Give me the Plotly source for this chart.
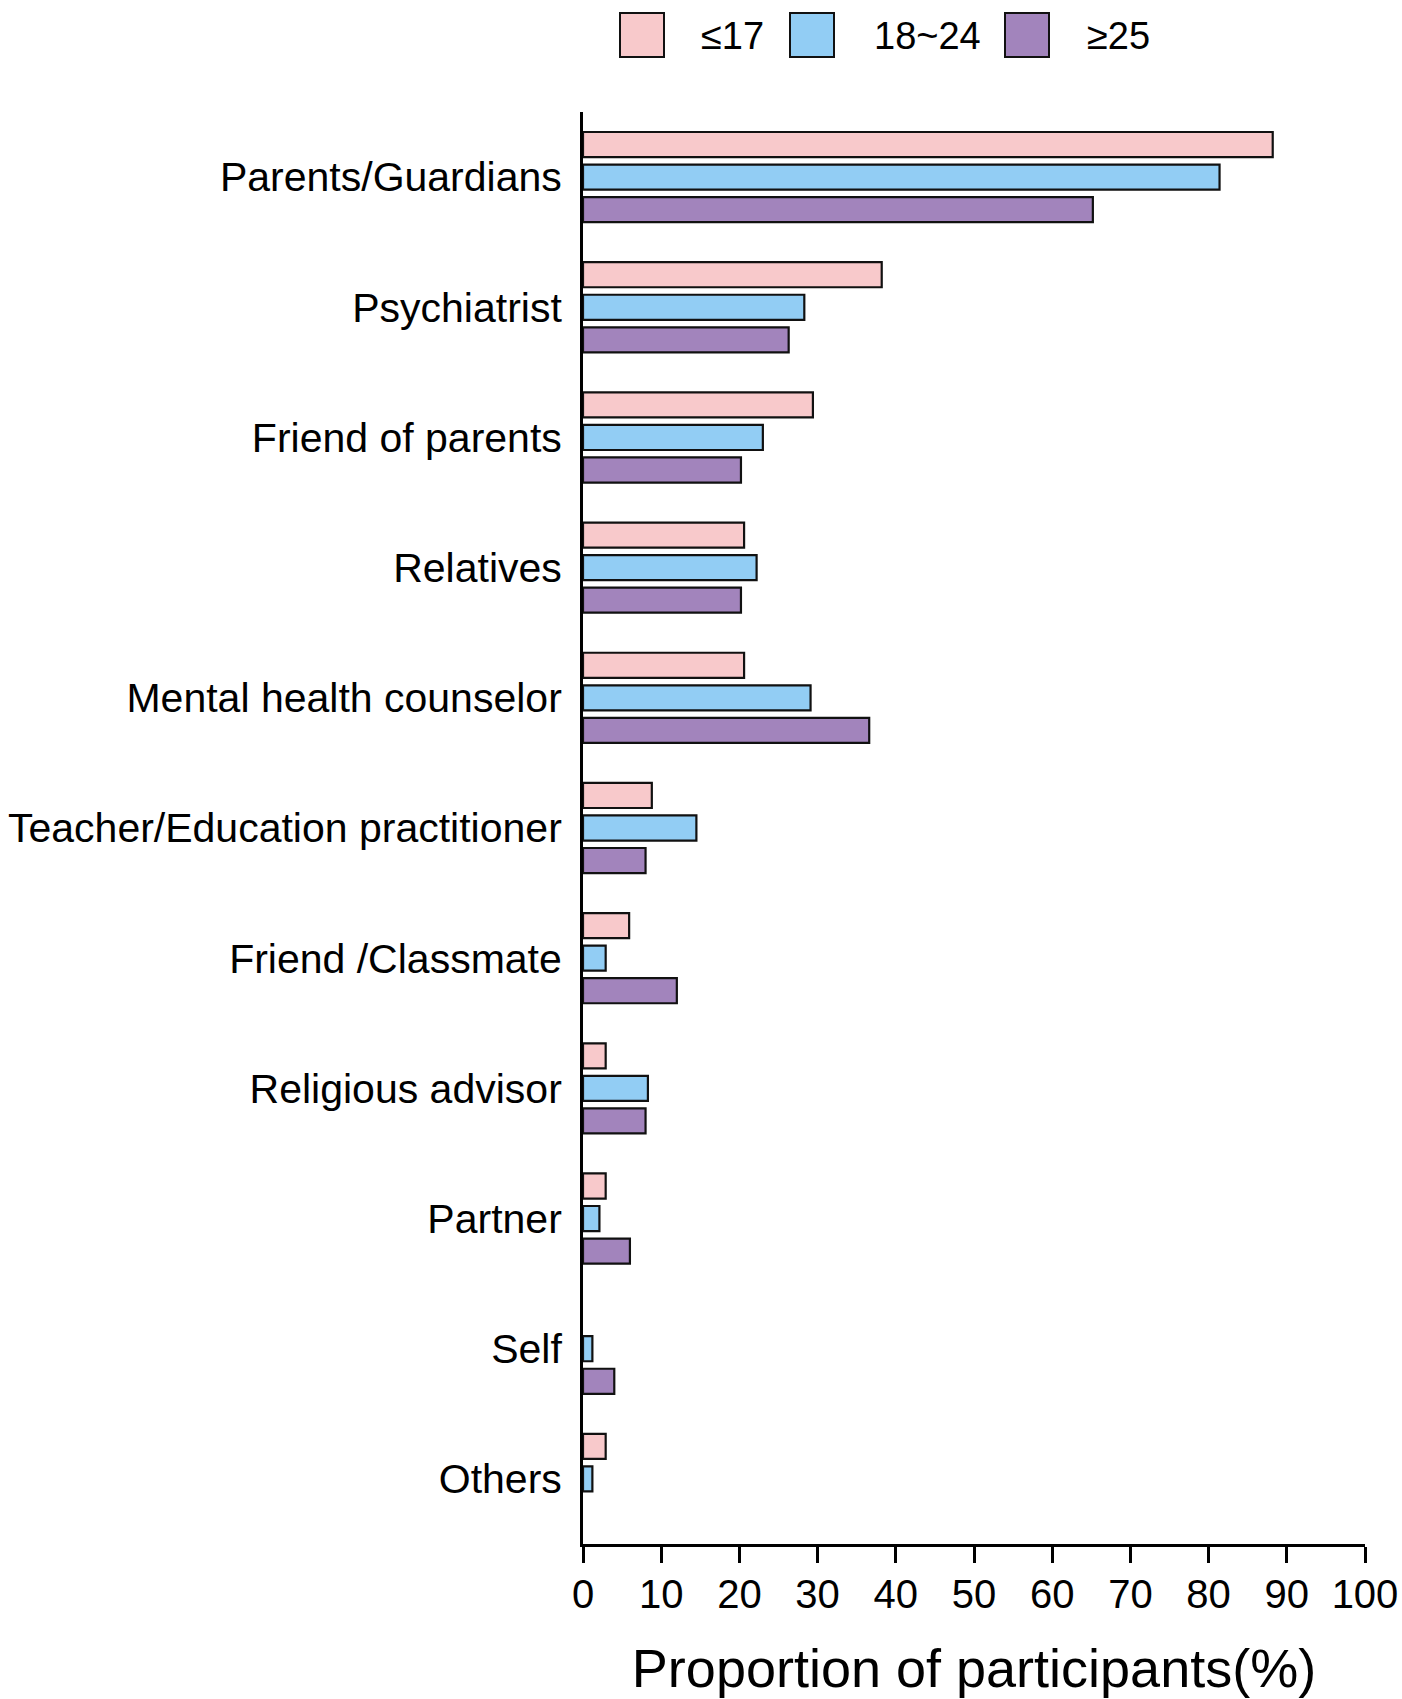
import plotly.graph_objects as go

# Who the participants told / sought help from, by age group (%)
categories = [
    "Parents/Guardians",
    "Psychiatrist",
    "Friend of parents",
    "Relatives",
    "Mental health counselor",
    "Teacher/Education practitioner",
    "Friend /Classmate",
    "Religious advisor",
    "Partner",
    "Self",
    "Others",
]
age_groups = ["≤17", "18~24", "≥25"]
under_17 = [88.2, 38.2, 29.4, 20.6, 20.6, 8.8, 5.9, 2.9, 2.9, 0.0, 2.9]
age_18_24 = [81.4, 28.3, 23.0, 22.2, 29.1, 14.5, 2.9, 8.3, 2.1, 1.2, 1.2]
over_25 = [65.2, 26.3, 20.2, 20.2, 36.6, 8.0, 12.0, 8.0, 6.0, 4.0, 0.0]
x_ticks = list(range(0, 101, 10))

colors = ["#F8C9CB", "#92CDF4", "#A284BC"]
series = [under_17, age_18_24, over_25]

W, H = 1402, 1699
ML, MR, MT, MB = 583, 37, 112, 155
PW, PH = W - ML - MR, H - MT - MB
FONT = "Liberation Sans, Arial, sans-serif"

fig = go.Figure()
for name, vals, col in zip(age_groups, series, colors):
    fig.add_trace(go.Bar(
        y=categories, x=vals, name=name, orientation="h",
        marker=dict(
            color=col,
            # no outline on empty bars so nothing shows at zero
            line=dict(color="#111111", width=[2.2 if v > 0 else 0 for v in vals]),
        ),
        showlegend=False,
    ))


def px_x(p):
    return (p - ML) / PW


def px_y(p):
    return 1 - (p - MT) / PH


# Legend drawn as large square swatches with labels across the top
legend_items = [(620, 699), (790, 872), (1005, 1085)]
shapes = []
annotations = []
for (sx, tx), name, col in zip(legend_items, age_groups, colors):
    shapes.append(dict(
        type="rect", xref="paper", yref="paper",
        x0=px_x(sx), x1=px_x(sx + 44), y0=px_y(13), y1=px_y(57),
        fillcolor=col, line=dict(color="#111111", width=2),
    ))
    annotations.append(dict(
        text=name, xref="paper", yref="paper", x=px_x(tx), y=px_y(36),
        xanchor="left", yanchor="middle", showarrow=False,
        font=dict(family=FONT, size=38, color="black"),
    ))

fig.update_layout(
    width=W, height=H,
    margin=dict(l=ML, r=MR, t=MT, b=MB, autoexpand=False),
    paper_bgcolor="white", plot_bgcolor="white",
    barmode="group", bargap=0.25, bargroupgap=0.23,
    font=dict(family=FONT, color="black"),
    shapes=shapes, annotations=annotations,
    xaxis=dict(
        range=[0, 100], tickvals=x_ticks, ticktext=[str(v) for v in x_ticks],
        showgrid=False, zeroline=False, automargin=False,
        showline=True, linecolor="black", linewidth=3,
        ticks="outside", ticklen=16, tickwidth=2.5, tickcolor="black",
        tickfont=dict(family=FONT, size=40, color="black"),
        ticklabelstandoff=-3,
        title=dict(text="Proportion of participants(%)",
                   font=dict(family=FONT, size=54, color="black"),
                   standoff=35),
    ),
    yaxis=dict(
        type="category", range=[10.5, -0.5],
        showgrid=False, zeroline=False, automargin=False,
        showline=True, linecolor="black", linewidth=3,
        ticks="", tickfont=dict(family=FONT, size=41, color="black"),
        ticklabelstandoff=10,
    ),
)

fig.write_html("out.html")
